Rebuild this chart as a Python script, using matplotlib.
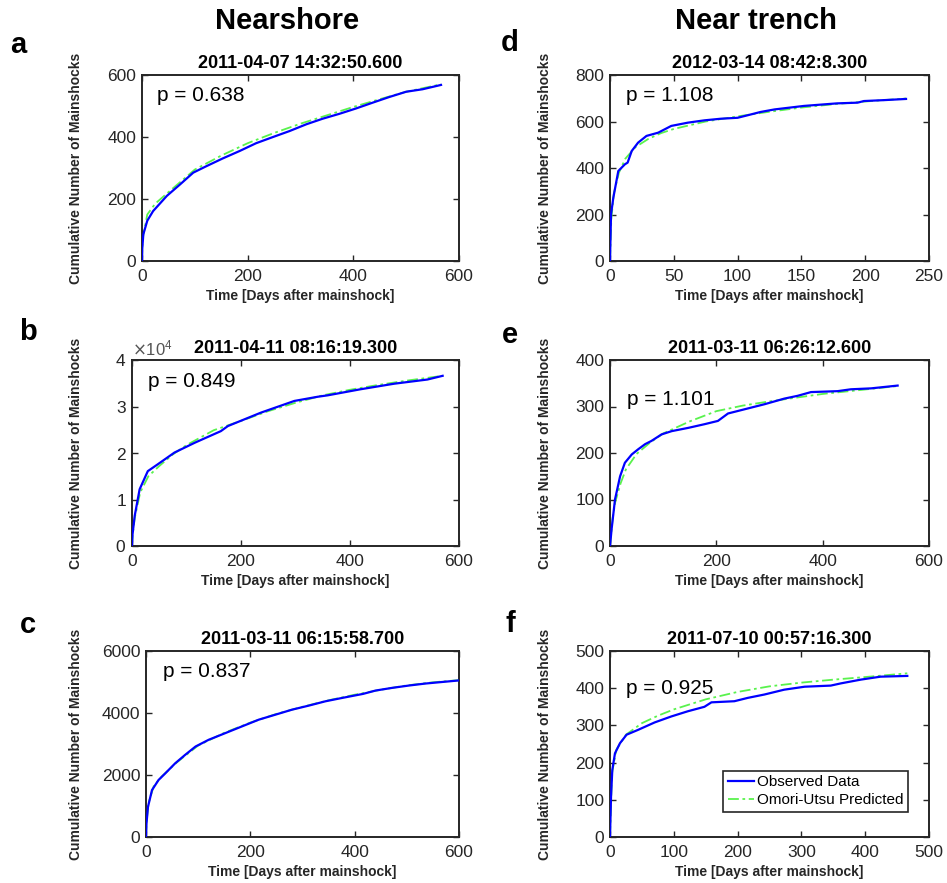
import matplotlib
matplotlib.use("Agg")
import matplotlib.pyplot as plt
from matplotlib.ticker import ScalarFormatter

plt.rcParams['font.family'] = ['Liberation Sans', 'DejaVu Sans']

# cumulative aftershock counts per mainshock (days after mainshock, count)
a_obs_days = [0, 0.5, 2.5, 10, 21, 47, 72, 97, 122, 153, 185, 216, 248, 279, 311, 342, 374, 405, 437, 468, 500, 531, 566]
a_obs_count = [0, 40, 86, 130, 161, 210, 247, 285, 306, 331, 355, 380, 400, 419, 441, 459, 475, 492, 511, 529, 546, 554, 568]
a_fit_days = [0, 1, 10, 25, 50, 100, 150, 200, 250, 300, 350, 400, 450, 500, 566]
a_fit_count = [0, 70, 150, 185, 222, 295, 340, 380, 413, 443, 470, 497, 522, 546, 570]

b_obs_days = [0, 1, 4.9, 14, 29, 47.6, 78, 115, 163, 176, 237, 298, 341, 359, 419, 481, 542, 570]
b_obs_count = [0, 2500, 6450, 12200, 16100, 17600, 20100, 22200, 24700, 25800, 28700, 31200, 32100, 32400, 33700, 34900, 35800, 36600]
b_fit_days = [0, 1, 5, 15, 30, 50, 75, 100, 150, 200, 250, 300, 350, 400, 450, 500, 570]
b_fit_count = [0, 2200, 6000, 11500, 15000, 17200, 19700, 21700, 24900, 26900, 29000, 30800, 32400, 33600, 34600, 35500, 36600]

c_obs_days = [0, 1, 3.8, 11.5, 24, 37, 56, 75, 95, 120, 152, 184, 216, 248, 280, 312, 344, 376, 416, 440, 472, 504, 536, 599]
c_obs_count = [0, 450, 973, 1514, 1838, 2054, 2378, 2649, 2919, 3135, 3351, 3568, 3784, 3946, 4108, 4238, 4378, 4486, 4616, 4724, 4811, 4886, 4951, 5049]
c_fit_days = [0, 1, 5, 15, 30, 60, 100, 150, 200, 250, 300, 350, 400, 450, 500, 550, 600]
c_fit_count = [0, 500, 1100, 1650, 1950, 2420, 2950, 3360, 3690, 3970, 4200, 4410, 4590, 4750, 4890, 4990, 5060]

d_obs_days = [0, 0.8, 2.6, 6.5, 11.7, 13.8, 17, 22, 28.6, 37.8, 48, 61, 74, 87, 100, 108, 118, 129, 152, 178, 194, 199, 215, 232]
d_obs_count = [0, 200, 272, 387, 416, 423, 473, 509, 538, 552, 581, 595, 605, 612, 616, 627, 641, 652, 667, 678, 681, 688, 692, 697]
d_fit_days = [0, 1, 3, 7, 12, 20, 30, 40, 50, 75, 100, 125, 150, 175, 200, 232]
d_fit_count = [0, 180, 290, 380, 440, 490, 525, 550, 568, 600, 622, 642, 660, 674, 686, 699]

e_obs_days = [0, 3, 9.4, 19, 28, 41, 53, 66, 78, 97, 116, 147, 178, 203, 222, 253, 291, 328, 353, 378, 428, 453, 491, 541]
e_obs_count = [0, 36, 100, 150, 179, 197, 208, 219, 226, 240, 247, 254, 262, 269, 285, 294, 305, 317, 323, 331, 333, 337, 339, 345]
e_fit_days = [0, 5, 10, 20, 30, 50, 75, 100, 150, 200, 250, 300, 350, 400, 450, 500, 541]
e_fit_count = [0, 60, 95, 135, 165, 198, 222, 242, 268, 290, 302, 311, 319, 327, 333, 339, 344]

f_obs_days = [0, 1.6, 3.6, 7.8, 15.6, 26, 44, 70, 96, 122, 148, 159, 195, 216, 242, 273, 305, 346, 362, 393, 424, 466]
f_obs_count = [0, 108, 180, 225, 252, 275, 288, 308, 324, 338, 350, 362, 365, 374, 383, 396, 404, 407, 413, 423, 431, 433]
f_fit_days = [0, 3, 10, 25, 50, 75, 100, 150, 200, 250, 300, 350, 400, 466]
f_fit_count = [0, 170, 235, 275, 306, 326, 343, 370, 390, 405, 415, 423, 430, 440]

panel_letters = ['a', 'b', 'c', 'd', 'e', 'f']
panel_titles = ['2011-04-07 14:32:50.600', '2011-04-11 08:16:19.300', '2011-03-11 06:15:58.700',
                '2012-03-14 08:42:8.300', '2011-03-11 06:26:12.600', '2011-07-10 00:57:16.300']
p_values = ['0.638', '0.849', '0.837', '1.108', '1.101', '0.925']
column_titles = ['Nearshore', 'Near trench']

x_limits = [600, 600, 600, 250, 600, 500]
x_steps = [200, 200, 200, 50, 200, 100]
y_limits = [600, 40000, 6000, 800, 400, 500]
y_steps = [200, 10000, 2000, 200, 100, 100]

observed = [(a_obs_days, a_obs_count), (b_obs_days, b_obs_count), (c_obs_days, c_obs_count),
            (d_obs_days, d_obs_count), (e_obs_days, e_obs_count), (f_obs_days, f_obs_count)]
predicted = [(a_fit_days, a_fit_count), (b_fit_days, b_fit_count), (c_fit_days, c_fit_count),
             (d_fit_days, d_fit_count), (e_fit_days, e_fit_count), (f_fit_days, f_fit_count)]

W, H = 947, 883
# axes boxes in pixels: left, right, top, bottom
boxes = [(142, 459, 75, 261), (132, 459, 360, 546), (146, 459, 651, 837),
         (610, 929, 75, 261), (610, 929, 360, 546), (610, 929, 651, 837)]
p_pos = [(0.047, 0.89), (0.049, 0.883), (0.053, 0.889), (0.049, 0.89), (0.052, 0.785), (0.049, 0.80)]
letter_pos = [(18, 45), (28, 332), (28, 625), (510, 43), (510, 335), (510, 624)]
ylabel_x = [83, 83, 83, 552, 552, 552]

dark = '#262626'
fig = plt.figure(figsize=(W / 100, H / 100), dpi=100)

for i in range(6):
    l, r, t, b = boxes[i]
    ax = fig.add_axes([l / W, 1 - b / H, (r - l) / W, (b - t) / H])
    od, oc = observed[i]
    pd_, pc = predicted[i]
    ax.plot(od, oc, color=(0, 0, 1), lw=1.6, label='Observed Data', zorder=3)
    ax.plot(pd_, pc, color=(0.35, 0.95, 0.3), lw=1.3, ls=(0, (6, 2, 1.5, 2)),
            label='Omori-Utsu Predicted', zorder=2)

    ax.set_xlim(0, x_limits[i])
    ax.set_ylim(0, y_limits[i])
    ax.set_xticks(range(0, x_limits[i] + 1, x_steps[i]))
    ax.set_yticks(range(0, y_limits[i] + 1, y_steps[i]))
    ax.tick_params(direction='in', length=4, width=1, colors=dark, labelsize=12.5,
                   top=True, right=True)
    ax.tick_params(axis='x', pad=6)
    ax.tick_params(axis='y', pad=4)
    for s in ax.spines.values():
        s.set_linewidth(1.4)
        s.set_color(dark)

    if y_limits[i] >= 10000:
        fmt = ScalarFormatter(useMathText=True)
        fmt.set_powerlimits((0, 0))
        ax.yaxis.set_major_formatter(fmt)
        ax.yaxis.get_offset_text().set_fontsize(12)
        ax.yaxis.get_offset_text().set_color('#555555')

    ax.set_title(panel_titles[i], fontsize=13, fontweight='bold', pad=5)
    ax.set_xlabel('Time [Days after mainshock]', fontsize=10, fontweight='bold', labelpad=3.5, color=dark)
    ax.set_ylabel('Cumulative Number of Mainshocks', fontsize=10, fontweight='bold', color=dark)
    ax.yaxis.set_label_coords(ylabel_x[i] / W, 1 - (t + b) / 2 / H, transform=fig.transFigure)

    ax.text(p_pos[i][0], p_pos[i][1], 'p = ' + p_values[i], transform=ax.transAxes,
            fontsize=15, va='center', ha='left')

    fig.text(letter_pos[i][0] / W, 1 - letter_pos[i][1] / H, panel_letters[i],
             fontsize=21, fontweight='bold', ha='center', va='center')

    if i == 5:
        leg = ax.legend(loc='lower right', bbox_to_anchor=(0.934, 0.135), borderaxespad=0,
                        fontsize=11, handlelength=1.7, handletextpad=0.2, labelspacing=0.25,
                        borderpad=0.3, fancybox=False, framealpha=1, edgecolor=dark)
        leg.get_frame().set_linewidth(1.2)

fig.text(287 / W, 1 - 21 / H, column_titles[0], fontsize=21, fontweight='bold', ha='center', va='center')
fig.text(756 / W, 1 - 21 / H, column_titles[1], fontsize=21, fontweight='bold', ha='center', va='center')

fig.savefig('out.png', dpi=100)
